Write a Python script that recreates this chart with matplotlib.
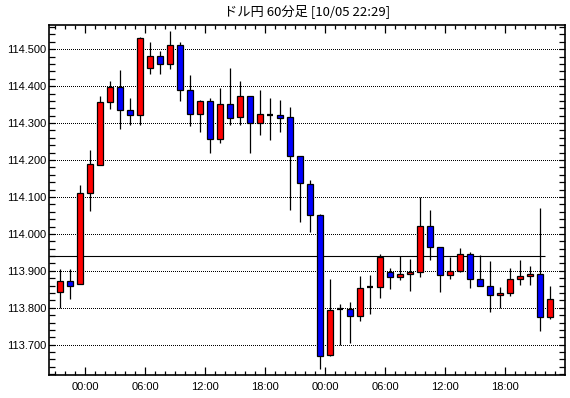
import numpy as np
import matplotlib
matplotlib.use("Agg")
import matplotlib.pyplot as plt
from matplotlib.ticker import MultipleLocator, FixedLocator

# USD/JPY hourly candles, first bar = 21:00
start_hour = 21
opens = [113.843, 113.873, 113.865, 114.111, 114.187, 114.357, 114.397, 114.335, 114.322, 114.449,
         114.481, 114.459, 114.511, 114.391, 114.324, 114.359, 114.257, 114.351, 114.316, 114.373,
         114.300, 114.322, 114.322, 114.316, 114.211, 114.135, 114.051, 113.673, 113.796, 113.797,
         113.777, 113.856, 113.857, 113.897, 113.884, 113.891, 113.898, 114.022, 113.965, 113.889,
         113.900, 113.946, 113.878, 113.859, 113.835, 113.841, 113.878, 113.886, 113.892, 113.776]
highs = [113.904, 113.904, 114.133, 114.228, 114.374, 114.414, 114.444, 114.368, 114.534, 114.520,
         114.495, 114.550, 114.519, 114.431, 114.363, 114.368, 114.395, 114.450, 114.414, 114.373,
         114.390, 114.368, 114.363, 114.344, 114.211, 114.146, 114.054, 113.878, 113.811, 113.817,
         113.885, 113.890, 113.946, 113.909, 113.939, 113.933, 114.101, 114.066, 113.965, 113.938,
         113.963, 113.950, 113.944, 113.928, 113.857, 113.909, 113.930, 113.912, 114.071, 113.859]
lows = [113.800, 113.823, 113.865, 114.061, 114.186, 114.339, 114.285, 114.294, 114.296, 114.434,
        114.434, 114.447, 114.361, 114.291, 114.275, 114.218, 114.245, 114.294, 114.294, 114.218,
        114.267, 114.253, 114.277, 114.064, 114.032, 114.005, 113.635, 113.669, 113.700, 113.705,
        113.764, 113.783, 113.826, 113.850, 113.875, 113.845, 113.883, 113.929, 113.842, 113.877,
        113.896, 113.853, 113.859, 113.788, 113.800, 113.832, 113.862, 113.861, 113.737, 113.770]
closes = [113.873, 113.859, 114.111, 114.189, 114.357, 114.397, 114.335, 114.322, 114.530, 114.481,
          114.459, 114.511, 114.391, 114.324, 114.360, 114.257, 114.351, 114.314, 114.373, 114.300,
          114.324, 114.322, 114.315, 114.211, 114.138, 114.051, 113.669, 113.795, 113.796, 113.777,
          113.854, 113.856, 113.937, 113.884, 113.892, 113.897, 114.022, 113.965, 113.889, 113.900,
          113.946, 113.878, 113.859, 113.835, 113.841, 113.878, 113.886, 113.892, 113.776, 113.824]
ref_price = 113.939
title = "ドル円 60分足 [10/05 22:29]"

opens = np.array(opens)
highs = np.array(highs)
lows = np.array(lows)
closes = np.array(closes)
n = len(opens)
x = np.arange(n)

W, H = 570, 398
fig = plt.figure(figsize=(W / 100, H / 100), dpi=100)
ax = fig.add_axes([49 / W, (H - 375) / H, (565 - 49) / W, (375 - 24.5) / H])

# dotted grid
for v in np.arange(113.7, 114.55, 0.1):
    ax.axhline(v, color="black", lw=0.72, ls=(0, (1, 2)), antialiased=False, zorder=0)

ax.hlines(ref_price, -1.1, n - 1.5, color="black", lw=0.8, zorder=1)

bw = 0.62
ax.vlines(x, lows, highs, color="black", lw=0.9, zorder=2)
up = closes > opens
down = closes < opens
flat = closes == opens
ax.bar(x[up], (closes - opens)[up], bottom=opens[up], width=bw,
       color="#ff0000", edgecolor="black", linewidth=0.9, zorder=3)
ax.bar(x[down], (opens - closes)[down], bottom=closes[down], width=bw,
       color="#0000ff", edgecolor="black", linewidth=0.9, zorder=3)
ax.hlines(opens[flat], x[flat] - bw / 2, x[flat] + bw / 2, color="black", lw=1.6, zorder=3)

ax.set_xlim(-1.1, n + 0.47)
ax.set_ylim(113.618, 114.567)

# ticks
hours = (start_hour + x) % 24
major_pos = x[hours % 6 == 0] - 0.5
major_lab = ["%02d:00" % h for h in hours[hours % 6 == 0]]
ax.xaxis.set_major_locator(FixedLocator(major_pos))
ax.set_xticklabels(major_lab)
ax.xaxis.set_minor_locator(FixedLocator(np.arange(-0.5, n + 0.5, 1.0)))
ax.yaxis.set_major_locator(MultipleLocator(0.1))
ax.yaxis.set_minor_locator(MultipleLocator(0.02))
ax.yaxis.set_major_formatter(plt.FuncFormatter(lambda v, p: "%.3f" % v))

ax.tick_params(axis="both", which="both", direction="in", top=True, right=True,
               labelsize=8, colors="black", width=0.9)
ax.tick_params(axis="x", which="major", length=6, pad=5)
ax.tick_params(axis="x", which="minor", length=3)
ax.tick_params(axis="y", which="both", length=4, pad=2)
for lab in ax.get_xticklabels() + ax.get_yticklabels():
    lab.set_family("Liberation Sans")

for s in ax.spines.values():
    s.set_linewidth(1.2)

fig.text(307 / W, 1 - 11 / H, title, ha="center", va="center", fontsize=9.5,
         family=["Noto Sans CJK JP", "DejaVu Sans"])

fig.savefig("out.png", dpi=100, facecolor="white")
